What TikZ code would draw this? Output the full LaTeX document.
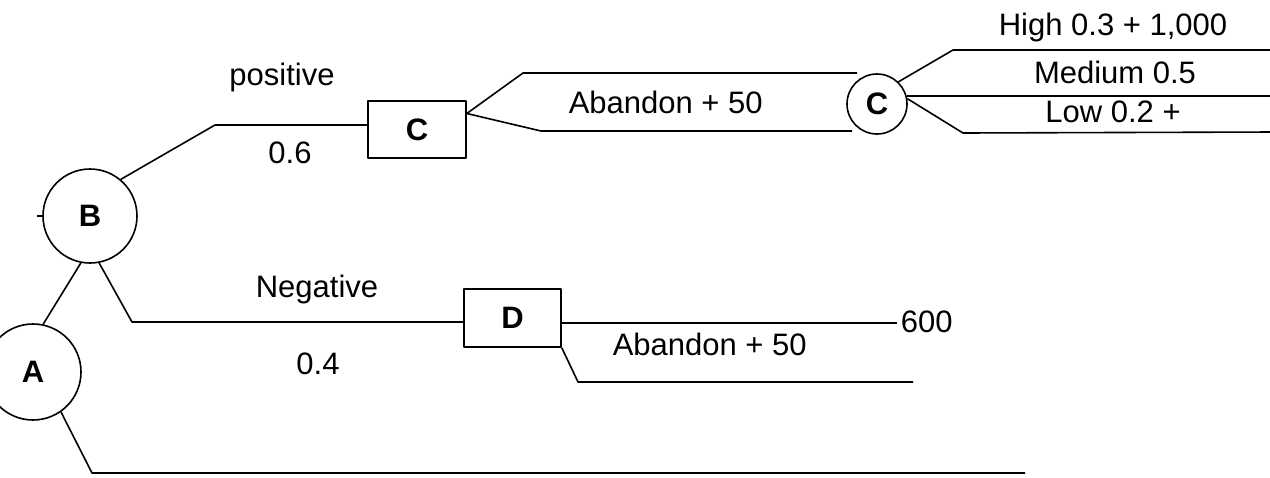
\documentclass[tikz,border=0pt]{standalone}
\usepackage{fontspec}
\setmainfont{Liberation Sans}
\usetikzlibrary{calc}
\begin{document}
\begin{tikzpicture}[x=1pt,y=-1pt, line width=1.6pt, line join=round,
  every node/.style={font=\fontsize{31}{36}\selectfont},
  chance/.style={draw, circle, inner sep=0pt, font=\fontsize{31}{36}\selectfont\bfseries},
  decision/.style={draw, rectangle, inner sep=0pt, font=\fontsize{31}{36}\selectfont\bfseries},
  lbl/.style={anchor=base, inner sep=0pt}]
\clip (0,0) rectangle (1270,477);
% nodes
\node[chance, minimum size=94pt] (B) at (90,216) {B};
\node[chance, minimum size=96pt] (A) at (33,372) {A};
\node[decision, minimum width=98pt, minimum height=57pt] (Cb) at (417,129.5) {C};
\node[decision, minimum width=97pt, minimum height=58pt] (D) at (512.5,318) {D};
\node[chance, minimum size=60pt] (Cc) at (877,104) {C};
% free ends
\coordinate (p1) at (215,125);
\coordinate (p2) at (523,73);
\coordinate (p3) at (857,73);
\coordinate (p4) at (541,131);
\coordinate (p5) at (852,131);
\coordinate (q1) at (953,50);
\coordinate (q2) at (1275,50);
\coordinate (q3) at (1275,96);
\coordinate (q4) at (963,133);
\coordinate (q5) at (1275,132);
\coordinate (n1) at (132,322);
\coordinate (d1) at (897,323);
\coordinate (d2) at (578,382);
\coordinate (d3) at (913,382);
\coordinate (a1) at (92,473);
\coordinate (a2) at (1025,473);
% connectors
\draw (B.west) -- ++(-5,0);
\draw (B.50) -- (p1) -- (p1 -| Cb.west);
\draw ($(Cb.east)+(0,-16)$) -- (p2) -- (p3);
\draw ($(Cb.east)+(0,-16)$) -- (p4) -- (p5);
\draw (Cc.46) -- (q1) -- (q2);
\draw (Cc.15) -- (q3);
\draw (Cc.10) -- (q4) -- (q5);
\draw (B.259) -- (A.78);
\draw (B.281) -- (n1) -- (n1 -| D.west);
\draw (D.east |- d1) -- (d1);
\draw (D.south east) -- (d2) -- (d3);
\draw (A.305) -- (a1) -- (a2);
% labels
\node[lbl] (tpos) at (282,85) {positive};
\node[lbl] (t06) at (290,163) {0.6};
\node[lbl, anchor=base west] (tab1) at (568,113) {Abandon + 50};
\node[lbl] (thigh) at (1113,35) {High 0.3 + 1,000};
\node[lbl] (tmed) at (1115,83) {Medium 0.5};
\node[lbl] (tlow) at (1113,122) {Low 0.2 +};
\node[lbl] (tneg) at (317,297) {Negative};
\node[lbl] (t04) at (318,374) {0.4};
\node[lbl, anchor=base west] (t600) at (900,332) {600};
\node[lbl, anchor=base west] (tab2) at (612,355) {Abandon + 50};
\end{tikzpicture}
\end{document}
